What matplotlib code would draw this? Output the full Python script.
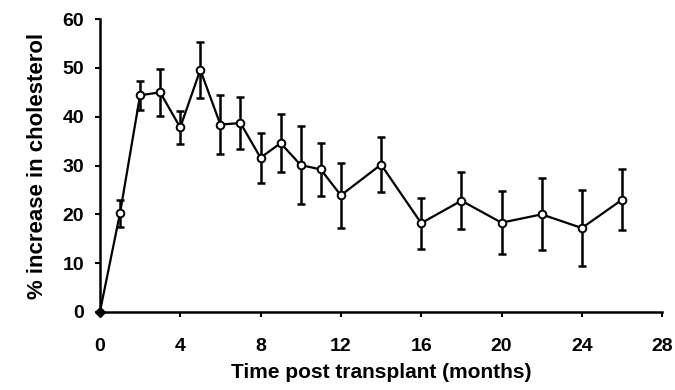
import matplotlib.pyplot as plt

months = [0, 1, 2, 3, 4, 5, 6, 7, 8, 9, 10, 11, 12, 14, 16, 18, 20, 22, 24, 26]
increase = [0, 20.2, 44.4, 45.0, 37.8, 49.6, 38.4, 38.7, 31.6, 34.6, 30.1, 29.2, 23.9,
            30.2, 18.2, 22.8, 18.3, 20.0, 17.2, 23.0]
sem = [0, 2.8, 3.0, 4.8, 3.3, 5.7, 6.0, 5.4, 5.1, 6.0, 8.0, 5.5, 6.6,
       5.6, 5.2, 5.8, 6.5, 7.4, 7.8, 6.2]

x_ticks = [0, 4, 8, 12, 16, 20, 24, 28]
y_ticks = [0, 10, 20, 30, 40, 50, 60]

plt.rcParams['font.family'] = ['Liberation Sans', 'DejaVu Sans']
plt.rcParams['font.weight'] = 'bold'

fig = plt.figure(figsize=(6.75, 3.9), dpi=100)
ax = fig.add_axes([0.148, 0.2, 0.833, 0.751])

ax.errorbar(months[1:], increase[1:], yerr=sem[1:], fmt='none', ecolor='black',
            elinewidth=1.8, capsize=3, capthick=1.8, zorder=2)
ax.plot(months, increase, color='black', linewidth=1.6, zorder=3)
ax.plot(months[1:], increase[1:], linestyle='none', marker='o', markersize=5.5,
        markerfacecolor='white', markeredgecolor='black', markeredgewidth=1.4, zorder=4)
ax.plot(months[:1], increase[:1], linestyle='none', marker='D', markersize=5,
        color='black', zorder=4, clip_on=False)

ax.set_xlim(0, 28)
ax.set_ylim(0, 60)
ax.set_xticks(x_ticks)
ax.set_yticks(y_ticks)
ax.spines['top'].set_visible(False)
ax.spines['right'].set_visible(False)
ax.spines['left'].set_linewidth(1.8)
ax.spines['bottom'].set_linewidth(1.8)
ax.tick_params(axis='both', direction='out', length=3.5, width=1.5, labelsize=14)
ax.tick_params(axis='x', pad=15)
ax.tick_params(axis='y', pad=8)

ax.set_xlabel('Time post transplant (months)', fontsize=15, fontweight='bold', labelpad=6)
ax.set_ylabel('% increase in cholesterol', fontsize=16, fontweight='bold', labelpad=10)

plt.savefig('out.png', dpi=100)
